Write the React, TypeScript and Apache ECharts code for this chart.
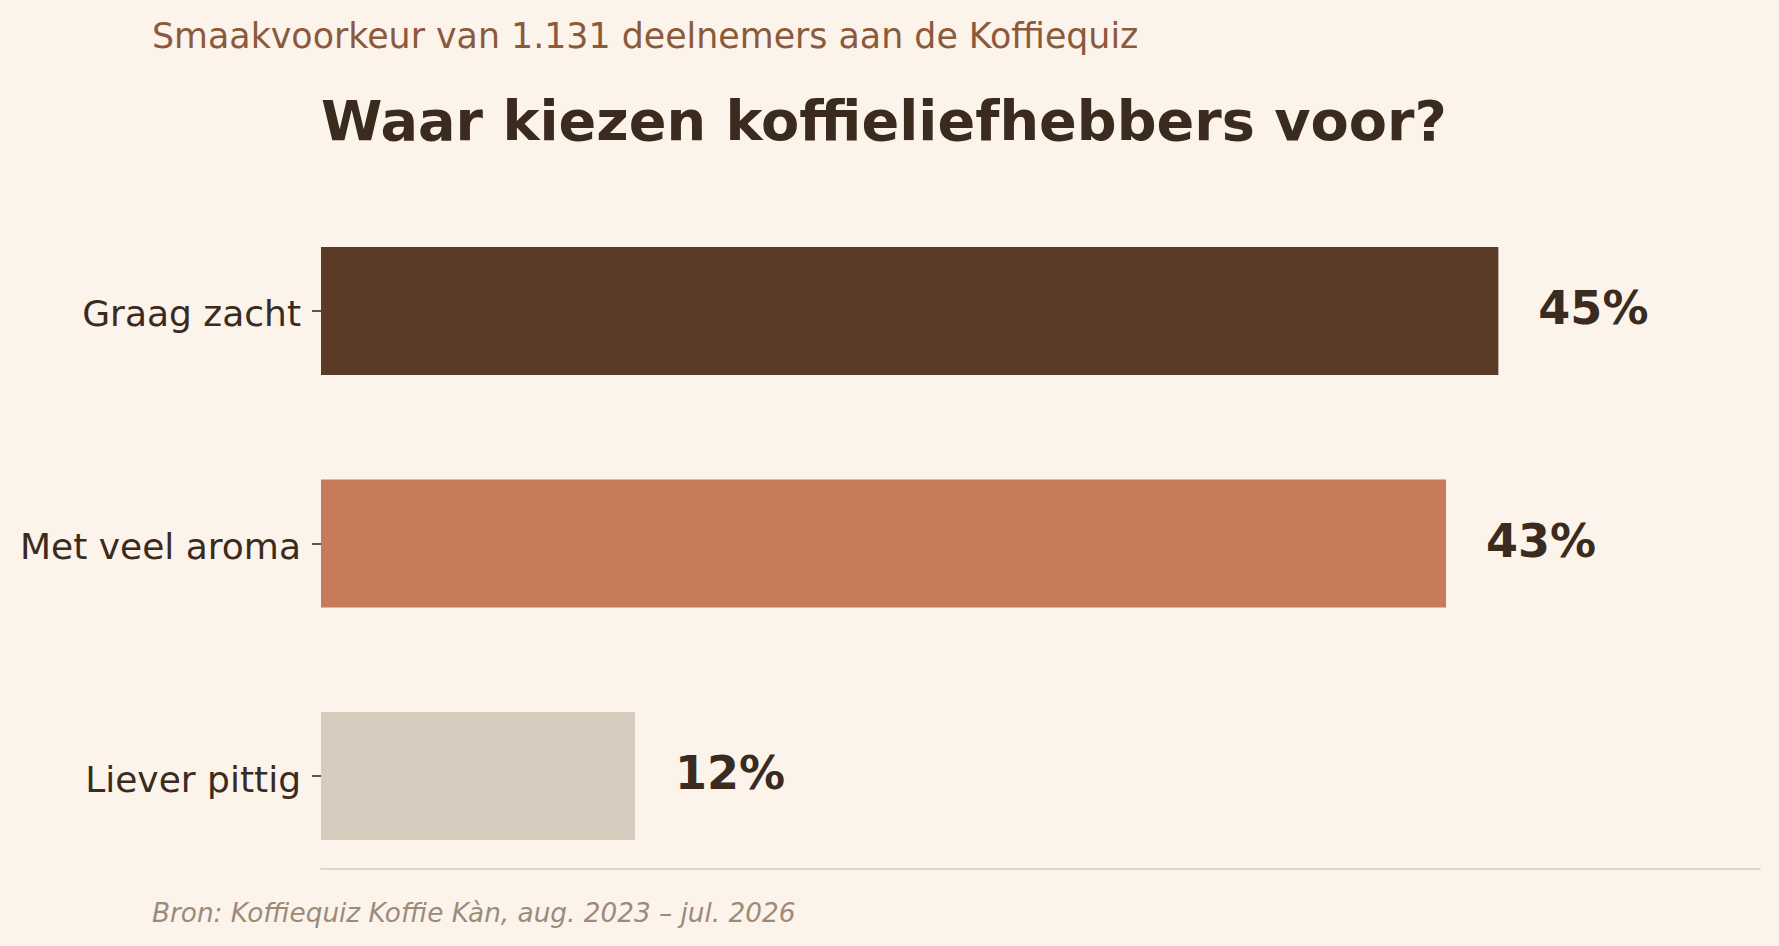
import React, { useEffect, useRef } from "react";
import * as echarts from "echarts";

const categories = ["Graag zacht", "Met veel aroma", "Liever pittig"];
const values = [45, 43, 12];
const barColors = ["#5C3A28", "#C67B5A", "#D8CCBF"];
const subtitleText = "Smaakvoorkeur van 1.131 deelnemers aan de Koffiequiz";
const titleText = "Waar kiezen koffieliefhebbers voor?";
const footerText = "Bron: Koffiequiz Koffie Kàn, aug. 2023 – jul. 2026";

const FONT = "'DejaVu Sans', sans-serif";
const DARK = "#3B2A1E";

export default function App() {
  const ref = useRef<HTMLDivElement>(null);
  useEffect(() => {
    document.body.style.margin = "0";
    const chart = echarts.init(ref.current!, null, { renderer: "svg" });
    chart.setOption({
      animation: false,
      backgroundColor: "#FCF4EA",
      textStyle: { fontFamily: FONT },
      grid: { left: 321, right: 19, top: 194.7, bottom: 53.7, containLabel: false },
      xAxis: {
        type: "value",
        min: 0,
        max: 55,
        offset: -23.3,
        axisLine: { show: true, lineStyle: { color: "#D6CBBE", width: 1.5 } },
        axisTick: { show: false },
        axisLabel: { show: false },
        splitLine: { show: false },
      },
      yAxis: {
        type: "category",
        data: categories,
        inverse: true,
        axisLine: { show: false },
        axisTick: { show: true, length: 9, alignWithLabel: true, lineStyle: { color: DARK, width: 1.6 } },
        axisLabel: {
          margin: 20,
          formatter: (v: string) => `{c|${v}}`,
          rich: { c: { fontSize: 36, color: DARK, fontFamily: FONT, padding: [6, 0, 0, 0] } },
        },
      },
      series: [
        {
          type: "bar",
          barWidth: "55%",
          data: values.map((v, i) => ({ value: v, itemStyle: { color: barColors[i] } })),
          label: {
            show: true,
            position: "right",
            distance: 40,
            offset: [0, -3],
            formatter: "{c}%",
            fontSize: 46,
            fontWeight: "bold",
            color: DARK,
            fontFamily: FONT,
          },
        },
      ],
      graphic: [
        {
          type: "text",
          left: 152,
          top: 18.5,
          style: { text: subtitleText, fontSize: 34.8, fill: "#8B5A3C", fontFamily: FONT },
        },
        {
          type: "text",
          left: 321,
          top: 92.5,
          style: { text: titleText, fontSize: 55.7, fontWeight: "bold", fill: DARK, fontFamily: FONT },
        },
        {
          type: "text",
          left: 152,
          top: 900,
          style: { text: footerText, fontSize: 26.3, fontStyle: "italic", fill: "#9C8B7B", fontFamily: FONT },
        },
      ],
    });
    return () => chart.dispose();
  }, []);
  return <div ref={ref} style={{ width: 1779, height: 946 }} />;
}
